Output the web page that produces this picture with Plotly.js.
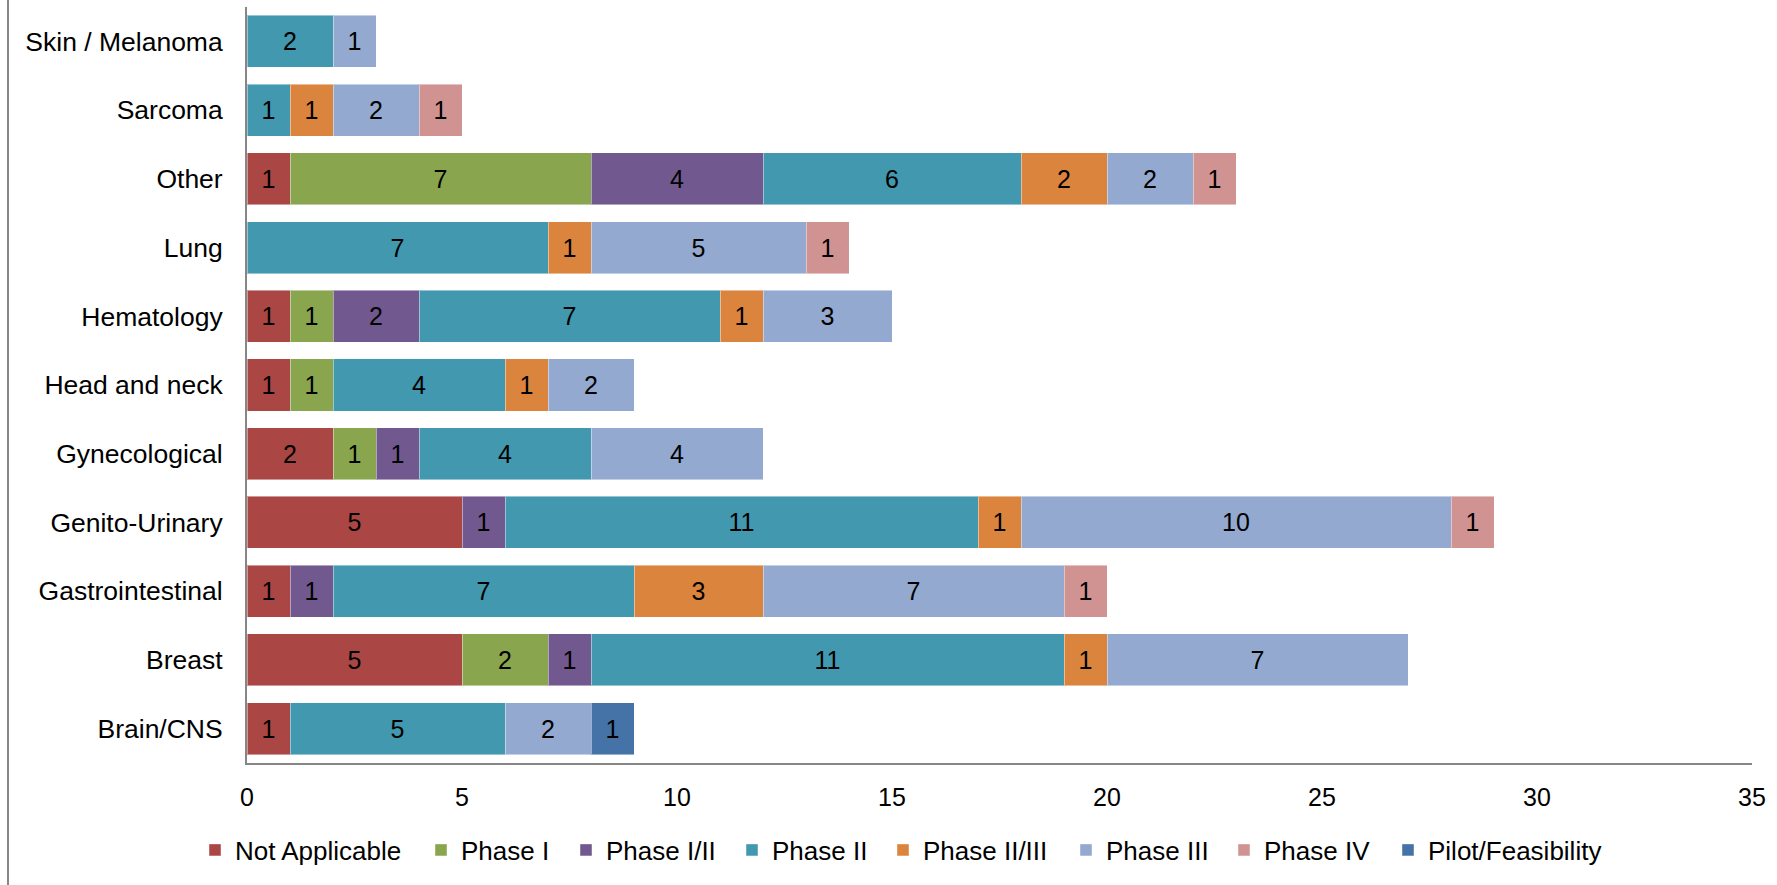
<!DOCTYPE html>
<html>
<head>
<meta charset="utf-8">
<script src="https://cdn.plot.ly/plotly-3.0.1.min.js"></script>
<style>html,body{margin:0;padding:0;background:#fff;}#chart{width:1777px;height:885px;}</style>
</head>
<body>
<div id="chart"></div>
<script>
const categories = ["Brain/CNS", "Breast", "Gastrointestinal", "Genito-Urinary", "Gynecological", "Head and neck", "Hematology", "Lung", "Other", "Sarcoma", "Skin / Melanoma"];

const notApplicable = [1, 5, 1, 5, 2, 1, 1, 0, 1, 0, 0];
const phaseI        = [0, 2, 0, 0, 1, 1, 1, 0, 7, 0, 0];
const phaseI_II     = [0, 1, 1, 1, 1, 0, 2, 0, 4, 0, 0];
const phaseII       = [5, 11, 7, 11, 4, 4, 7, 7, 6, 1, 2];
const phaseII_III   = [0, 1, 3, 1, 0, 1, 1, 1, 2, 1, 0];
const phaseIII      = [2, 7, 7, 10, 4, 2, 3, 5, 2, 2, 1];
const phaseIV       = [0, 0, 1, 1, 0, 0, 0, 1, 1, 1, 0];
const pilot         = [1, 0, 0, 0, 0, 0, 0, 0, 0, 0, 0];

const seriesNames = ["Not Applicable", "Phase I", "Phase I/II", "Phase II", "Phase II/III", "Phase III", "Phase IV", "Pilot/Feasibility"];
const seriesValues = [notApplicable, phaseI, phaseI_II, phaseII, phaseII_III, phaseIII, phaseIV, pilot];
const seriesColors = ["#AA4643", "#89A54E", "#71588F", "#4198AF", "#DB843D", "#93A9CF", "#D19392", "#4572A7"];

const FONT = "Liberation Sans, Arial, sans-serif";

// plot area geometry (px)
const PL = 247, PR = 25, PT = 7, PB = 122, W = 1777, H = 885;
const PW = W - PL - PR, PH = H - PT - PB;
// legend entry left positions (px) as laid out in the reference
const legendPx = [195, 421, 566, 732, 883, 1066, 1224, 1388];

const traces = seriesNames.map((name, i) => ({
  type: "bar",
  orientation: "h",
  name: name,
  legend: i === 0 ? "legend" : "legend" + (i + 1),
  y: categories,
  x: seriesValues[i].map(v => v === 0 ? null : v),
  text: seriesValues[i].map(v => v === 0 ? "" : String(v)),
  textposition: "inside",
  insidetextanchor: "middle",
  constraintext: "none",
  textfont: {family: FONT, size: 25, color: "#000"},
  marker: {color: seriesColors[i], line: {color: "rgba(255,255,255,0.45)", width: 1}},
  hoverinfo: "x+y+name"
}));

const layout = {
  width: W,
  height: H,
  barmode: "stack",
  bargap: 0.243,
  paper_bgcolor: "#fff",
  plot_bgcolor: "#fff",
  margin: {l: PL, r: PR, t: PT, b: PB},
  font: {family: FONT, color: "#000"},
  xaxis: {
    range: [0, 35],
    tickvals: [0, 5, 10, 15, 20, 25, 30, 35],
    showgrid: false,
    zeroline: false,
    showline: true,
    linecolor: "#868686",
    linewidth: 2,
    ticks: "outside",
    ticklen: 11,
    tickcolor: "rgba(0,0,0,0)",
    tickfont: {family: FONT, size: 25, color: "#000"}
  },
  yaxis: {
    type: "category",
    categoryorder: "array",
    categoryarray: categories,
    showgrid: false,
    zeroline: false,
    showline: true,
    linecolor: "#868686",
    linewidth: 2,
    ticks: "outside",
    ticklen: 17,
    tickcolor: "rgba(0,0,0,0)",
    tickfont: {family: FONT, size: 26.5, color: "#000"}
  },
  shapes: [{
    type: "line", xref: "paper", yref: "paper",
    x0: (8 - PL) / PW, x1: (8 - PL) / PW,
    y0: 1.02, y1: -0.17,
    line: {color: "#868686", width: 2}
  }],
  showlegend: true
};

legendPx.forEach((px, i) => {
  const key = i === 0 ? "legend" : "legend" + (i + 1);
  layout[key] = {
    orientation: "h",
    x: (px - PL) / PW,
    xanchor: "left",
    y: (PT + PH - 850) / PH,
    yanchor: "middle",
    bgcolor: "rgba(0,0,0,0)",
    font: {family: FONT, size: 26, color: "#000"},
    itemclick: false
  };
});

Plotly.newPlot("chart", traces, layout, {displayModeBar: false, staticPlot: true});
</script>
</body>
</html>
